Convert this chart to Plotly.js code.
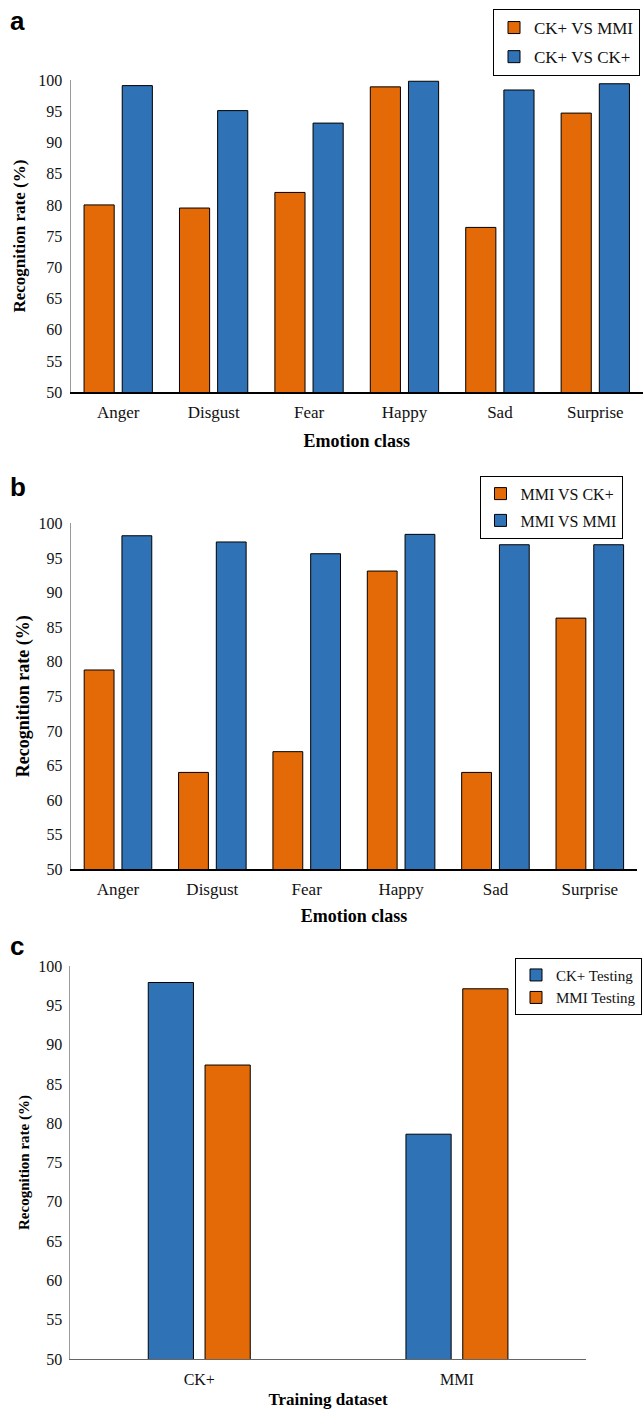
<!DOCTYPE html>
<html>
<head>
<meta charset="utf-8">
<script src="https://cdn.plot.ly/plotly-3.0.1.min.js"></script>
<style>html,body{margin:0;padding:0;background:#fff;}#chart{width:643px;height:1409px;}</style>
</head>
<body>
<div id="chart"></div>
<script>
// ---- data ----
const emotions = ['Anger', 'Disgust', 'Fear', 'Happy', 'Sad', 'Surprise'];
const ckVsMmi  = [80.0, 79.5, 82.0, 98.9, 76.4, 94.7];
const ckVsCk   = [99.1, 95.1, 93.1, 99.8, 98.4, 99.4];
const mmiVsCk  = [78.8, 64.0, 67.0, 93.1, 64.0, 86.3];
const mmiVsMmi = [98.2, 97.3, 95.6, 98.4, 96.9, 96.9];
const trainSets  = ['CK+', 'MMI'];
const ckTesting  = [97.9, 78.6];
const mmiTesting = [87.4, 97.1];
const yTicks = [50, 55, 60, 65, 70, 75, 80, 85, 90, 95, 100];

// ---- style ----
const ORANGE = '#E36A06';
const BLUE = '#3072B6';
const SERIF = 'Liberation Serif, Times New Roman, serif';
const W = 643, H = 1409;
const px = v => v / W;
const py = v => 1 - v / H;
const line = {color: '#000', width: 1};

const traces = [
  {type: 'bar', name: 'CK+ VS MMI', x: emotions, y: ckVsMmi, xaxis: 'x', yaxis: 'y',
   marker: {color: ORANGE, line}, legend: 'legend', legendgroup: 'a1'},
  {type: 'bar', name: 'CK+ VS CK+', x: emotions, y: ckVsCk, xaxis: 'x', yaxis: 'y',
   marker: {color: BLUE, line}, legend: 'legend', legendgroup: 'a2'},
  {type: 'bar', name: 'MMI VS CK+', x: emotions, y: mmiVsCk, xaxis: 'x2', yaxis: 'y2',
   marker: {color: ORANGE, line}, legend: 'legend2', legendgroup: 'b1'},
  {type: 'bar', name: 'MMI VS MMI', x: emotions, y: mmiVsMmi, xaxis: 'x2', yaxis: 'y2',
   marker: {color: BLUE, line}, legend: 'legend2', legendgroup: 'b2'},
  {type: 'bar', name: 'CK+ Testing', x: trainSets, y: ckTesting, xaxis: 'x3', yaxis: 'y3',
   marker: {color: BLUE, line}, legend: 'legend3', legendgroup: 'c1',
   width: 0.1754, offset: -0.1979},
  {type: 'bar', name: 'MMI Testing', x: trainSets, y: mmiTesting, xaxis: 'x3', yaxis: 'y3',
   marker: {color: ORANGE, line}, legend: 'legend3', legendgroup: 'c2',
   width: 0.1754, offset: 0.0225}
];

function yax(domain, fsize, tfsize, standoff) {
  return {
    domain, range: [50, 100], tickvals: yTicks, ticktext: yTicks.map(String),
    showline: true, linecolor: '#9a9a9a', linewidth: 1, ticks: '', showgrid: false, zeroline: false,
    tickfont: {family: SERIF, size: fsize, color: '#111'}, ticklabelstandoff: 4,
    title: {text: '<b>Recognition rate (%)</b>', font: {family: SERIF, size: tfsize, color: '#000'}, standoff},
    fixedrange: true
  };
}
function xax(domain, anchor, title, fsize, tfsize, lstand, standoff, lc) {
  return {
    domain, anchor, type: 'category', showline: true, linecolor: lc, linewidth: 1.3, ticks: '',
    showgrid: false, zeroline: false, ticklabelstandoff: lstand,
    tickfont: {family: SERIF, size: fsize, color: '#111'},
    title: {text: '<b>' + title + '</b>', font: {family: SERIF, size: tfsize, color: '#000'}, standoff},
    fixedrange: true
  };
}
function leg(xRight, y, gap, fsize) {
  return {x: xRight, y, xanchor: 'right', yanchor: 'top', bgcolor: '#fff', bordercolor: '#000', borderwidth: 1,
    font: {family: SERIF, size: fsize, color: '#111'}, traceorder: 'grouped', tracegroupgap: gap};
}

const layout = {
  width: W, height: H, margin: {l: 0, r: 0, t: 0, b: 0, autoexpand: false},
  paper_bgcolor: '#fff', plot_bgcolor: '#fff',
  barmode: 'group', bargap: 0.2, bargroupgap: 0.21, showlegend: true,
  xaxis:  xax([px(70.5), 1], 'y', 'Emotion class', 17, 18, 4, 13, '#000'),
  yaxis:  yax([py(392.3), py(80)], 16, 17, 8),
  xaxis2: xax([px(70.8), px(637)], 'y2', 'Emotion class', 17, 18, 4, 11, '#000'),
  yaxis2: Object.assign(yax([py(869.3), py(523.3)], 16, 18, 4), {anchor: 'x2'}),
  xaxis3: xax([px(70.4), px(585.8)], 'y3', 'Training dataset', 16, 17, 5, 9, '#666'),
  yaxis3: Object.assign(yax([py(1359), py(966)], 16, 15, 4), {anchor: 'x3'}),
  legend:  leg(px(640), py(9), 4, 17),
  legend2: leg(px(622.5), py(475.7), 3, 16),
  legend3: leg(px(642), py(957.7), 0, 15),
  annotations: [
    {text: '<b>a</b>', x: px(8), y: py(4), xref: 'paper', yref: 'paper', xanchor: 'left', yanchor: 'top',
     showarrow: false, font: {family: 'Liberation Sans, Arial, sans-serif', size: 26, color: '#000'}},
    {text: '<b>b</b>', x: px(8), y: py(470), xref: 'paper', yref: 'paper', xanchor: 'left', yanchor: 'top',
     showarrow: false, font: {family: 'Liberation Sans, Arial, sans-serif', size: 26, color: '#000'}},
    {text: '<b>c</b>', x: px(8), y: py(929), xref: 'paper', yref: 'paper', xanchor: 'left', yanchor: 'top',
     showarrow: false, font: {family: 'Liberation Sans, Arial, sans-serif', size: 26, color: '#000'}}
  ]
};

Plotly.newPlot('chart', traces, layout, {displayModeBar: false, staticPlot: true});
</script>
</body>
</html>
